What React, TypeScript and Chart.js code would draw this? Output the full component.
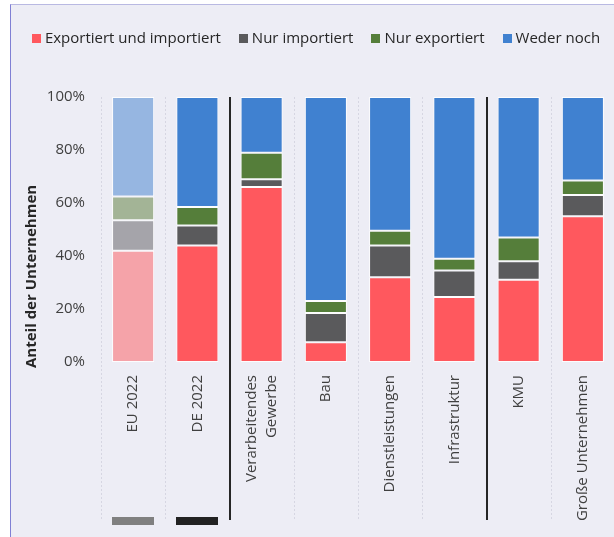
import React, { useEffect, useRef } from 'react';
import { Chart, registerables } from 'chart.js';
Chart.register(...registerables);

const categories: (string | string[])[] = [
  'EU 2022',
  'DE 2022',
  ['Verarbeitendes', 'Gewerbe'],
  'Bau',
  'Dienstleistungen',
  'Infrastruktur',
  'KMU',
  'Große Unternehmen',
];

const seriesNames = ['Exportiert und importiert', 'Nur importiert', 'Nur exportiert', 'Weder noch'];

const exportiertUndImportiert = [42, 44, 66, 7.5, 32, 24.5, 31, 55];
const nurImportiert = [11.5, 7.5, 3, 11, 12, 10, 7, 8];
const nurExportiert = [9, 7, 10, 4.5, 5.5, 4.5, 9, 5.5];
const wederNoch = [37.5, 41.5, 21, 77, 50.5, 61, 53, 31.5];

const yTicks = [0, 20, 40, 60, 80, 100];
const yTitle = 'Anteil der Unternehmen';

// colours: strong and pale (for the EU reference bar)
const strongColors = ['#FF585E', '#5A5A5C', '#557E3A', '#4081D0'];
const paleColors = ['#F5A3A9', '#A5A4AA', '#A3B496', '#96B6E1'];
const paleIndex = [0];

// vertical solid separators after these category indices
const separatorsAfter = [1, 5];
// small marker bars below categories
const markerColors: (string | null)[] = ['#808080', '#222222', null, null, null, null, null, null];

const FONT = "'Open Sans', 'Noto Sans', sans-serif";
const TICK_LINE_HEIGHT = 1.33;

export default function App() {
  const ref = useRef<HTMLCanvasElement>(null);

  useEffect(() => {
    document.body.style.margin = '0';
    document.body.style.overflow = 'hidden';
    Chart.defaults.font.family = FONT;

    const seriesData = [exportiertUndImportiert, nurImportiert, nurExportiert, wederNoch];

    const customLegend = {
      id: 'customLegend',
      afterDraw(chart: any) {
        const c = chart.ctx;
        c.save();
        c.font = `15px ${FONT}`;
        const box = 9;
        const textGap = 4;
        const itemGap = 18;
        const widths = seriesNames.map((n) => c.measureText(n).width);
        const total =
          widths.reduce((a, b) => a + b, 0) + seriesNames.length * (box + textGap) + (seriesNames.length - 1) * itemGap;
        let x = (chart.width - total) / 2 + 2;
        const yMid = 33.5;
        c.textBaseline = 'middle';
        c.textAlign = 'left';
        seriesNames.forEach((n, s) => {
          c.fillStyle = strongColors[s];
          c.fillRect(Math.round(x), Math.round(yMid - box / 2), box, box);
          x += box + textGap;
          c.fillStyle = '#262626';
          c.fillText(n, x, yMid);
          x += widths[s] + itemGap;
        });

        // y-axis title
        const { bottom } = chart.chartArea;
        c.translate(21, bottom + 6);
        c.rotate(-Math.PI / 2);
        c.font = `bold 15px ${FONT}`;
        c.fillStyle = '#262626';
        c.textAlign = 'left';
        c.textBaseline = 'middle';
        c.fillText(yTitle, 0, 0);
        c.restore();
      },
    };

    const centerMultiline = {
      id: 'centerMultiline',
      afterLayout(chart: any) {
        const xs = chart.scales.x;
        const items = xs.getLabelItems();
        items.forEach((it: any) => {
          if (Array.isArray(it.label) && it.label.length > 1) {
            const lh = it.font.lineHeight;
            const shift = ((it.label.length - 1) * lh) / 2;
            it.options.translation = [it.options.translation[0] - shift, it.options.translation[1]];
          }
        });
      },
    };

    const decorPlugin = {
      id: 'decor',
      beforeDatasetsDraw(chart: any) {
        const xs = chart.scales.x;
        const { top } = chart.chartArea;
        const end = xs.bottom;
        const c = chart.ctx;
        c.save();
        for (let i = 0; i <= categories.length; i++) {
          const px = Math.round(xs.getPixelForValue(i - 0.5));
          const solid = separatorsAfter.includes(i - 1);
          c.beginPath();
          if (solid) {
            c.strokeStyle = '#262626';
            c.lineWidth = 2;
            c.setLineDash([]);
            c.moveTo(px, top);
            c.lineTo(px, end);
          } else {
            c.strokeStyle = '#D6D6E2';
            c.lineWidth = 1;
            c.setLineDash([2, 2]);
            c.moveTo(px + 0.5, top);
            c.lineTo(px + 0.5, end);
          }
          c.stroke();
        }
        c.restore();
      },
      afterDraw(chart: any) {
        const xs = chart.scales.x;
        const meta = chart.getDatasetMeta(0);
        const c = chart.ctx;
        c.save();
        markerColors.forEach((col, i) => {
          if (!col) return;
          const bar = meta.data[i];
          const w = bar.width;
          const cx = xs.getPixelForValue(i);
          c.fillStyle = col;
          c.fillRect(Math.round(cx - w / 2), xs.bottom - 3, Math.round(w), 8);
        });
        c.restore();
      },
    };

    const chart = new Chart(ref.current!, {
      type: 'bar',
      data: {
        labels: categories as any,
        datasets: seriesNames.map((name, s) => ({
          label: name,
          data: seriesData[s],
          backgroundColor: categories.map((_, i) => (paleIndex.includes(i) ? paleColors[s] : strongColors[s])),
          borderColor: 'rgba(255,255,255,0.85)',
          borderWidth: 1,
          borderSkipped: false,
          barPercentage: 0.655,
          categoryPercentage: 1,
        })),
      },
      options: {
        animation: false,
        responsive: false,
        layout: { padding: { top: 92, left: 0, right: 2, bottom: 17 } },
        plugins: {
          legend: { display: false },
          tooltip: { enabled: false },
        },
        scales: {
          x: {
            stacked: true,
            grid: { display: false, drawTicks: false },
            border: { display: false },
            ticks: {
              autoSkip: false,
              maxRotation: 90,
              minRotation: 90,
              padding: 13,
              color: '#404040',
              font: { size: 15, family: FONT, lineHeight: TICK_LINE_HEIGHT },
            },
            afterFit: (scale: any) => {
              scale.height = 158;
            },
          },
          y: {
            stacked: true,
            min: 0,
            max: 100,
            grid: { display: false, drawTicks: false },
            border: { display: false },
            afterBuildTicks: (scale: any) => {
              scale.ticks = yTicks.map((v) => ({ value: v }));
            },
            ticks: {
              padding: 16,
              color: '#404040',
              font: { size: 15, family: FONT },
              callback: (v: any) => v + '%',
            },
            afterFit: (scale: any) => {
              scale.width = 90;
            },
          },
        },
      },
      plugins: [customLegend, centerMultiline, decorPlugin],
    } as any);

    return () => chart.destroy();
  }, []);

  return (
    <div
      style={{
        position: 'absolute',
        left: 10,
        top: 4,
        width: 610,
        height: 540,
        background: '#EDEDF5',
        borderLeft: '1px solid #8080D4',
        borderTop: '1px solid #B9B9E2',
        overflow: 'hidden',
      }}
    >
      <canvas ref={ref} width={606} height={532} style={{ display: 'block', width: 606, height: 532 }} />
    </div>
  );
}
